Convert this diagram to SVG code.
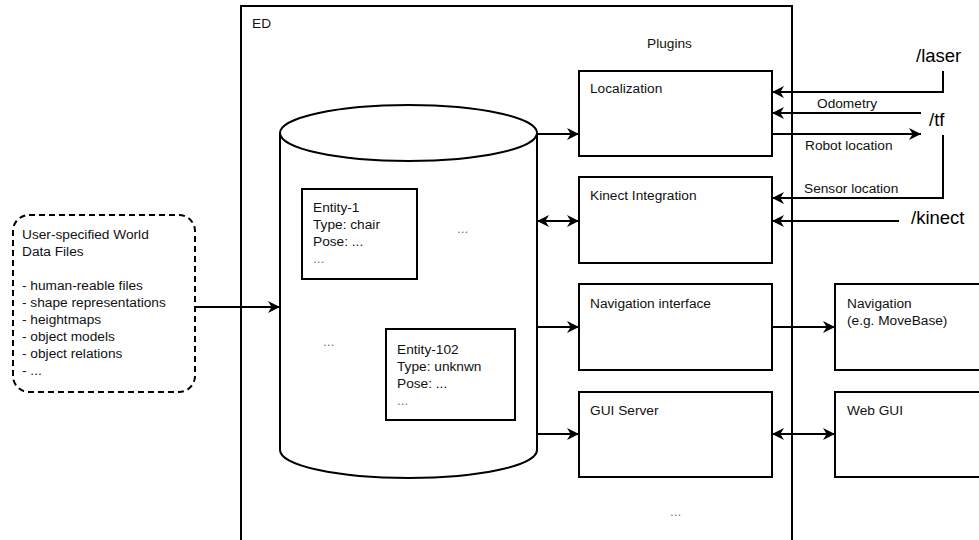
<svg xmlns="http://www.w3.org/2000/svg" width="979" height="540" viewBox="0 0 979 540">
<defs>
<marker id="ah" viewBox="0 0 10 10" refX="10" refY="5" markerWidth="12" markerHeight="12" markerUnits="userSpaceOnUse" orient="auto-start-reverse">
<path d="M0,0 L10,5 L0,10 L3,5 z" fill="#000"/>
</marker>
</defs>
<style>
.box{fill:#fff;stroke:#000;stroke-width:2}
.t{font-family:"Liberation Sans",Arial,sans-serif;font-size:13.7px;fill:#111}
.big{font-family:"Liberation Sans",Arial,sans-serif;font-size:18.5px;fill:#000}
.dim{fill:#777}
.c{fill:none;stroke:#000;stroke-width:2}
.a{marker-end:url(#ah)}
.b{marker-start:url(#ah);marker-end:url(#ah)}
</style>
<rect width="979" height="540" fill="#fff"/>
<g id="ed">
<rect x="241" y="6" width="551" height="545" class="box"/>
<text x="252" y="28" class="t">ED</text>
<text x="647" y="48" class="t">Plugins</text>
<text x="670" y="516" class="t dim">...</text>
</g>
<g id="worldfiles">
<rect x="13" y="215" width="182" height="177" rx="16" ry="16" fill="#fff" stroke="#000" stroke-width="2" stroke-dasharray="6,4"/>
<text class="t"><tspan x="22" y="239">User-specified World</tspan><tspan x="22" y="256">Data Files</tspan><tspan x="22" y="290">- human-reable files</tspan><tspan x="22" y="307">- shape representations</tspan><tspan x="22" y="324">- heightmaps</tspan><tspan x="22" y="341">- object models</tspan><tspan x="22" y="358">- object relations</tspan><tspan x="22" y="375">- ...</tspan></text>
</g>
<g id="database">
<path d="M280,133 L280,450 A128.5,28 0 0 0 537,450 L537,133" class="box"/>
<ellipse cx="408.5" cy="133" rx="128.5" ry="28" class="box"/>
<text x="457" y="233" class="t dim">...</text>
<text x="323" y="346" class="t dim">...</text>
</g>
<g id="entity1">
<rect x="302" y="189" width="115" height="90" class="box"/>
<text class="t"><tspan x="313" y="212">Entity-1</tspan><tspan x="313" y="229">Type: chair</tspan><tspan x="313" y="246">Pose: ...</tspan><tspan x="313" y="263" class="dim">...</tspan></text>
</g>
<g id="entity102">
<rect x="386" y="329" width="129" height="91" class="box"/>
<text class="t"><tspan x="397" y="354">Entity-102</tspan><tspan x="397" y="371">Type: unknwn</tspan><tspan x="397" y="388">Pose: ...</tspan><tspan x="397" y="405" class="dim">...</tspan></text>
</g>
<g id="localization">
<rect x="579" y="71" width="193" height="85" class="box"/>
<text x="590" y="93" class="t">Localization</text>
</g>
<g id="kinectintegration">
<rect x="579" y="177" width="193" height="86" class="box"/>
<text x="590" y="200" class="t">Kinect Integration</text>
</g>
<g id="navinterface">
<rect x="579" y="284" width="193" height="86" class="box"/>
<text x="590" y="308" class="t">Navigation interface</text>
</g>
<g id="guiserver">
<rect x="579" y="392" width="193" height="85" class="box"/>
<text x="590" y="415" class="t">GUI Server</text>
</g>
<g id="navigation">
<rect x="835" y="284" width="160" height="86" class="box"/>
<text class="t"><tspan x="847" y="308">Navigation</tspan><tspan x="847" y="325">(e.g. MoveBase)</tspan></text>
</g>
<g id="webgui">
<rect x="835" y="392" width="160" height="85" class="box"/>
<text x="847" y="415" class="t">Web GUI</text>
</g>
<g id="laser"><text x="916" y="62" class="big">/laser</text></g>
<g id="tf"><text x="929" y="126" class="big">/tf</text></g>
<g id="kinect"><text x="911" y="224" class="big">/kinect</text></g>
<g id="connectors">
<path d="M195,307 L280,307" class="c a"/>
<path d="M537,134 L579,134" class="c a"/>
<path d="M537,221 L579,221" class="c b"/>
<path d="M537,327 L579,327" class="c a"/>
<path d="M537,434 L579,434" class="c a"/>
<path d="M943,71 L943,92 L772,92" class="c a"/>
<path d="M921,113 L772,113" class="c a"/>
<path d="M772,134 L921,134" class="c a"/>
<path d="M943,135 L943,198 L772,198" class="c a"/>
<path d="M899,221 L772,221" class="c a"/>
<path d="M772,327 L835,327" class="c a"/>
<path d="M772,434 L835,434" class="c b"/>
<text x="817" y="108" class="t">Odometry</text>
<text x="805" y="150" class="t">Robot location</text>
<text x="804" y="193" class="t">Sensor location</text>
</g>
</svg>
